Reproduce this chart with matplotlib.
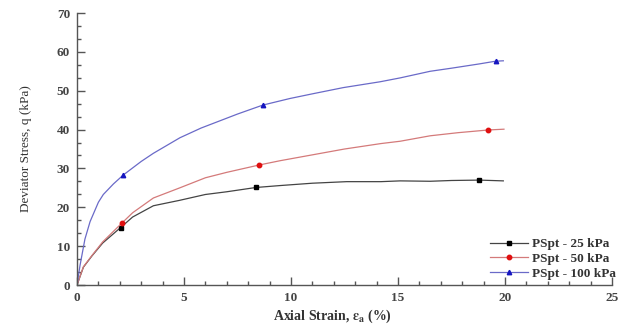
import matplotlib
matplotlib.use("Agg")
import matplotlib.pyplot as plt
import numpy as np
from matplotlib.ticker import MultipleLocator, AutoMinorLocator

plt.rcParams["font.family"] = ["Liberation Serif", "DejaVu Serif"]
plt.rcParams["mathtext.fontset"] = "stix"

# 25 kPa
x25 = [0, 0.3, 0.7, 1.2, 2.04, 2.6, 3.57, 4.8, 6.0, 7.0, 8.36, 9.5, 11.0, 12.6,
       14.2, 15.1, 16.5, 17.5, 18.8, 19.92]
y25 = [0, 4.6, 7.5, 10.8, 14.8, 17.5, 20.4, 21.8, 23.3, 24.0, 25.1, 25.6, 26.2, 26.6,
       26.6, 26.8, 26.7, 26.9, 27.0, 26.8]
mk25 = [2.04, 8.36, 18.8]

# 50 kPa
x50 = [0, 0.3, 0.7, 1.2, 2.09, 2.6, 3.57, 4.8, 6.0, 7.0, 8.52, 9.5, 11.0, 12.5,
       14.2, 15.1, 16.5, 17.8, 19.22, 19.95]
y50 = [0, 4.7, 7.6, 11.1, 15.9, 18.6, 22.4, 25.0, 27.6, 29.0, 30.9, 32.0, 33.5, 35.0,
       36.4, 37.0, 38.4, 39.2, 39.9, 40.1]
mk50 = [2.09, 8.52, 19.22]

# 100 kPa
x100 = [0, 0.14, 0.37, 0.61, 1.0, 1.23, 1.7, 2.16, 3.0, 3.57, 4.81, 5.8, 6.84, 7.5,
        8.68, 9.95, 11.0, 12.44, 14.16, 15.1, 16.5, 17.5, 18.8, 19.56, 19.92]
y100 = [0, 5.0, 11.8, 16.3, 21.3, 23.3, 26.0, 28.3, 31.8, 33.9, 37.9, 40.4, 42.6, 44.0,
        46.3, 48.0, 49.2, 50.8, 52.3, 53.3, 55.0, 55.8, 56.9, 57.6, 57.7]
mk100 = [2.16, 8.68, 19.56]

series = [
    (x25, y25, mk25, "PSpt - 25 kPa", "#444444", "black", "s"),
    (x50, y50, mk50, "PSpt - 50 kPa", "#d47a7a", "#e01010", "o"),
    (x100, y100, mk100, "PSpt - 100 kPa", "#6a6ac8", "#1515c0", "^"),
]

fig = plt.figure(figsize=(6.28, 3.25), dpi=100)
ax = fig.add_axes([0.1226, 0.123, 0.852, 0.837])

for xs, ys, mks, label, lc, mc, m in series:
    idx = [int(np.argmin(np.abs(np.array(xs) - v))) for v in mks]
    ax.plot(xs, ys, color=lc, linewidth=0.9, marker=m, markersize=3.2,
            markerfacecolor=mc, markeredgecolor=mc, markevery=idx, label=label)

ax.set_xlim(0, 25)
ax.set_ylim(0, 70)
ax.xaxis.set_major_locator(MultipleLocator(5))
ax.xaxis.set_minor_locator(AutoMinorLocator(5))
ax.yaxis.set_major_locator(MultipleLocator(10))
ax.yaxis.set_minor_locator(AutoMinorLocator(3))
for s in ["top", "right"]:
    ax.spines[s].set_visible(False)
for s in ["left", "bottom"]:
    ax.spines[s].set_color("#555555")
    ax.spines[s].set_linewidth(1.0)
ax.tick_params(which="major", direction="in", length=6, width=1, colors="#555555",
               labelcolor="#444444", labelsize=9.5, pad=5)
ax.tick_params(which="minor", direction="in", length=3, width=1, colors="#555555")
for t in ax.get_xticklabels() + ax.get_yticklabels():
    t.set_fontweight("bold")

ax.set_xlabel(r"Axial Strain, $\mathbf{\varepsilon_{a}}$ (%)", fontsize=10,
              fontweight="bold", color="#333333", labelpad=3)
ax.xaxis.set_label_coords(0.478, -0.085)
ax.set_ylabel("Deviator Stress, q (kPa)", fontsize=9.5, color="#333333")
ax.yaxis.set_label_coords(-0.085, 0.5)

leg = ax.legend(loc="lower right", bbox_to_anchor=(1.025, -0.015), frameon=False,
                prop={"size": 9.5, "weight": "bold"}, numpoints=1,
                handlelength=2.9, handletextpad=0.3, labelspacing=0.2, borderpad=0.2)
for t in leg.get_texts():
    t.set_color("#333333")

fig.savefig("out.png", dpi=100)
